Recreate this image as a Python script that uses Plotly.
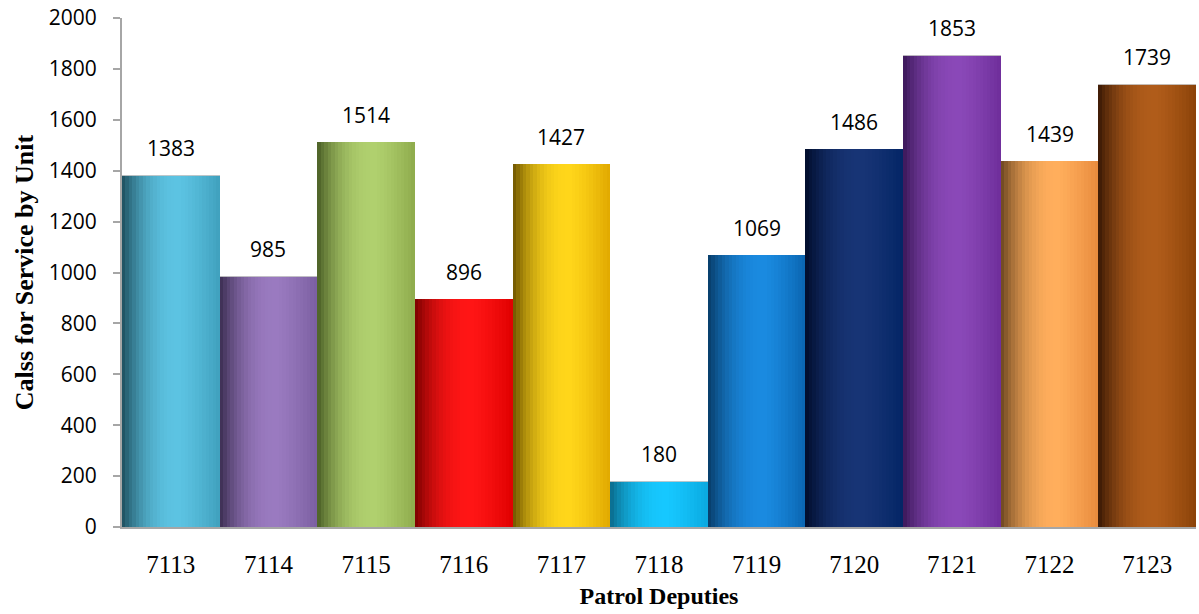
import plotly.graph_objects as go

# ---- data ----
units = ["7113", "7114", "7115", "7116", "7117", "7118", "7119", "7120", "7121", "7122", "7123"]
calls = [1383, 985, 1514, 896, 1427, 180, 1069, 1486, 1853, 1439, 1739]

# ---- style: per-bar cylinder shading (dark edge, highlight, right edge) ----
dark_cols = ["#1d4d5c", "#3a2d50", "#4a5e25", "#7a0000", "#6e5400", "#0a6b8c",
             "#073a66", "#000c2a", "#3a1858", "#6a4520", "#3a1804"]
light_cols = ["#5cc3e2", "#9a7ac0", "#b0d06e", "#ff1515", "#ffd61a", "#16c8ff",
              "#1a8ae0", "#173475", "#8a48b8", "#ffae5c", "#b05c1a"]
right_cols = ["#3fa0bd", "#7a5fa0", "#8eab4c", "#e00000", "#e0a800", "#0aa8e0",
              "#0a65b0", "#032565", "#6e2e9a", "#e88a3c", "#8a4208"]


def hex2rgb(h):
    h = h.lstrip("#")
    return [int(h[i:i + 2], 16) for i in (0, 2, 4)]


def mix(a, b, u):
    ra, rb = hex2rgb(a), hex2rgb(b)
    return "rgb(%d,%d,%d)" % tuple(round(ra[k] + (rb[k] - ra[k]) * u) for k in range(3))


def shade(i, t):
    peak = 0.58
    if t < peak:
        u = t / peak
        u = 1 - (1 - u) ** 2.3
        return mix(dark_cols[i], light_cols[i], u)
    u = (t - peak) / (1 - peak)
    return mix(light_cols[i], right_cols[i], u ** 1.3)


n_stripes = 28
w = 1.0 / n_stripes
fig = go.Figure()
for s in range(n_stripes):
    t = (s + 0.5) / n_stripes
    fig.add_trace(go.Bar(
        x=units, y=calls,
        width=w * 1.08 if s < n_stripes - 1 else w,
        offset=-0.5 + s * w,
        marker=dict(color=[shade(i, t) for i in range(len(units))], line=dict(width=0)),
        hoverinfo="skip", showlegend=False,
    ))

# thin top edge of each bar
fig.add_trace(go.Bar(
    x=units, y=[2] * len(units), base=[v - 2 for v in calls],
    width=1.0, offset=-0.5,
    marker=dict(color="rgba(200,200,200,0.9)", line=dict(width=0)),
    hoverinfo="skip", showlegend=False,
))

# value labels (category index positions)
for i, v in enumerate(calls):
    fig.add_annotation(x=i, y=v, xref="x", yref="y", text=str(v), showarrow=False,
                       yanchor="middle", yshift=27,
                       font=dict(family="Open Sans", size=21, color="#000000"))

axis_col = "#a6a6a6"
fig.update_layout(
    width=1199, height=614,
    margin=dict(l=122, r=3, t=16, b=87),
    paper_bgcolor="white", plot_bgcolor="white",
    barmode="overlay", bargap=0,
    xaxis=dict(
        type="category", range=[-0.5, 10.5],
        showline=True, linecolor=axis_col, linewidth=2,
        ticks="", showgrid=False, zeroline=False,
        tickfont=dict(family="Liberation Serif", size=25, color="#000000"),
        ticklabelstandoff=14,
        title=dict(text="<b>Patrol Deputies</b>", standoff=10,
                   font=dict(family="Liberation Serif", size=24, color="#000000")),
    ),
    yaxis=dict(
        range=[0, 2000], dtick=200,
        showline=True, linecolor=axis_col, linewidth=2,
        ticks="outside", ticklen=7, tickcolor=axis_col, tickwidth=2,
        showgrid=False, zeroline=False,
        tickfont=dict(family="Open Sans", size=21, color="#000000"),
        ticklabelstandoff=12,
        title=dict(text="<b>Calss for Service by Unit</b>", standoff=8,
                   font=dict(family="Liberation Serif", size=26, color="#000000")),
    ),
)

fig.write_html("out.html")
